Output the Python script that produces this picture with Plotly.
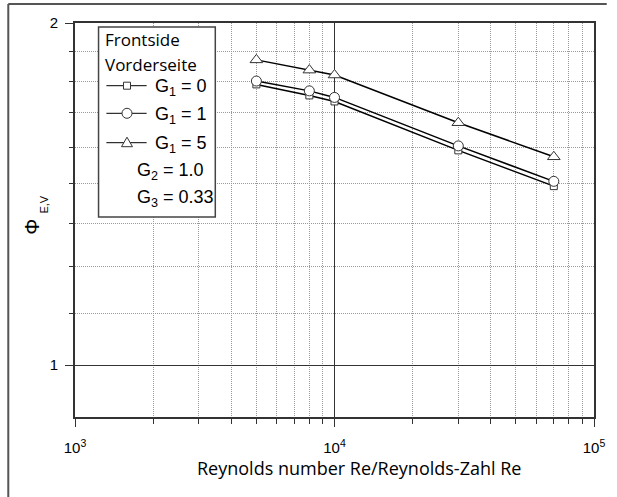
import plotly.graph_objects as go

# ---------------- data ----------------
re_values = [5000, 8000, 10000, 30000, 70000]
phi_g1_0 = [1.766, 1.727, 1.706, 1.545, 1.437]
phi_g1_1 = [1.778, 1.743, 1.720, 1.559, 1.451]
phi_g1_5 = [1.856, 1.818, 1.800, 1.634, 1.525]
series_labels = ["G<sub>1</sub> = 0", "G<sub>1</sub> = 1", "G<sub>1</sub> = 5"]
legend_title = ["Frontside", "Vorderseite"]
legend_extra = ["G<sub>2</sub> = 1.0", "G<sub>3</sub> = 0.33"]
x_tick_vals = [1e3, 1e4, 1e5]
x_tick_text = ["10<sup>3</sup>", "10<sup>4</sup>", "10<sup>5</sup>"]
x_minor_vals = [m * 10 ** e for e in (3, 4) for m in range(2, 10)]
y_tick_vals = [1, 2]
y_tick_text = ["1", "2"]
y_minor_vals = [1 + k / 9 for k in range(1, 9)]
x_title = "Reynolds number Re/Reynolds-Zahl Re"

# ---------------- geometry helpers ----------------
W, H = 617, 497
L, R, T, B = 75, 13, 23, 80
PW, PH = W - L - R, H - T - B


def px(x):
    return (x - L) / PW


def py(y):
    return (H - B - y) / PH


ARIAL = "Liberation Sans, Arial, sans-serif"
SANS = "Open Sans, sans-serif"

fig = go.Figure()

symbols = ["square", "circle", "triangle-up"]
sizes = [7, 10, 11]
for vals, lab, sym, sz in zip([phi_g1_0, phi_g1_1, phi_g1_5], series_labels, symbols, sizes):
    fig.add_trace(go.Scatter(
        x=re_values, y=vals, mode="lines+markers", name=lab, showlegend=False,
        line=dict(color="black", width=1.5),
        marker=dict(symbol=sym, size=sz, color="white", line=dict(color="#333", width=1)),
    ))

axis_common = dict(
    showline=True, linecolor="#333", linewidth=2, mirror=True,
    showgrid=True, gridcolor="#333", gridwidth=1,
    ticks="outside", ticklen=8, tickwidth=1, tickcolor="#333",
    tickfont=dict(family=ARIAL, size=15, color="black"),
    zeroline=False,
)

fig.update_xaxes(
    type="log", range=[3, 5], tickmode="array", tickvals=x_tick_vals, ticktext=x_tick_text,
    minor=dict(tickmode="array", tickvals=x_minor_vals, ticks="outside", ticklen=5,
               tickcolor="#333", showgrid=True, gridcolor="#999", griddash="1px,1px", gridwidth=1),
    ticklabelstandoff=8,
    **axis_common,
)
fig.update_yaxes(
    type="log", range=[-0.045757, 0.30103], tickmode="array", tickvals=y_tick_vals, ticktext=y_tick_text,
    minor=dict(tickmode="array", tickvals=y_minor_vals, ticks="outside", ticklen=4,
               tickcolor="#333", showgrid=True, gridcolor="#999", griddash="1px,1px", gridwidth=1),
    ticklabelstandoff=4,
    **axis_common,
)

shapes = []
# outer frame (left & top edges visible in the picture)
shapes.append(dict(type="line", xref="paper", yref="paper",
                   x0=px(7), x1=px(7), y0=py(4), y1=py(497),
                   line=dict(color="#555", width=2), layer="above"))
shapes.append(dict(type="line", xref="paper", yref="paper",
                   x0=px(7), x1=px(617), y0=py(4), y1=py(4),
                   line=dict(color="#555", width=2), layer="above"))
# legend box
shapes.append(dict(type="rect", xref="paper", yref="paper",
                   x0=px(99), x1=px(218), y0=py(217), y1=py(27),
                   line=dict(color="#444", width=1.5), fillcolor="white", layer="above"))
row_y = [85.7, 113.3, 142.7]
for yy in row_y:
    shapes.append(dict(type="line", xref="paper", yref="paper",
                       x0=px(107), x1=px(148), y0=py(yy), y1=py(yy),
                       line=dict(color="black", width=1), layer="above"))
mk = dict(xref="paper", yref="paper", xsizemode="pixel", ysizemode="pixel",
          xanchor=px(128), fillcolor="white", line=dict(color="#333", width=1), layer="above")
shapes.append(dict(type="rect", yanchor=py(row_y[0]), x0=-3.5, x1=3.5, y0=-3.5, y1=3.5, **mk))
shapes.append(dict(type="circle", yanchor=py(row_y[1]), x0=-5, x1=5, y0=-5, y1=5, **mk))
shapes.append(dict(type="path", yanchor=py(row_y[2]), path="M-5.5,-4 L5.5,-4 L0,5.5 Z", **mk))

annotations = []
annotations.append(dict(text=legend_title[0], x=px(104), y=py(40), xanchor="left", yanchor="middle",
                        font=dict(family=SANS, size=17, color="black")))
annotations.append(dict(text=legend_title[1], x=px(104), y=py(64), xanchor="left", yanchor="middle",
                        font=dict(family=SANS, size=17, color="black")))
for lab, yy in zip(series_labels, row_y):
    annotations.append(dict(text=lab, x=px(154), y=py(yy + 2), xanchor="left", yanchor="middle",
                            font=dict(family=ARIAL, size=18, color="black")))
annotations.append(dict(text=legend_extra[0], x=px(136), y=py(171), xanchor="left", yanchor="middle",
                        font=dict(family=ARIAL, size=18, color="black")))
annotations.append(dict(text=legend_extra[1], x=px(136), y=py(198), xanchor="left", yanchor="middle",
                        font=dict(family=ARIAL, size=18, color="black")))
# axis titles
annotations.append(dict(text=x_title, x=px(364), y=py(468), xanchor="center", yanchor="middle",
                        font=dict(family=SANS, size=18, color="black")))
annotations.append(dict(text="\u03a6", x=px(31), y=py(227), xanchor="center", yanchor="middle",
                        textangle=-90, font=dict(family=ARIAL, size=20, color="black")))
annotations.append(dict(text="E,V", x=px(43), y=py(205), xanchor="center", yanchor="middle",
                        textangle=-90, font=dict(family=ARIAL, size=11, color="black")))
for a in annotations:
    a.update(xref="paper", yref="paper", showarrow=False)

fig.update_layout(
    width=W, height=H, autosize=False,
    margin=dict(l=L, r=R, t=T, b=B, pad=0),
    paper_bgcolor="white", plot_bgcolor="white",
    shapes=shapes, annotations=annotations, showlegend=False,
)

fig.write_html("out.html")
